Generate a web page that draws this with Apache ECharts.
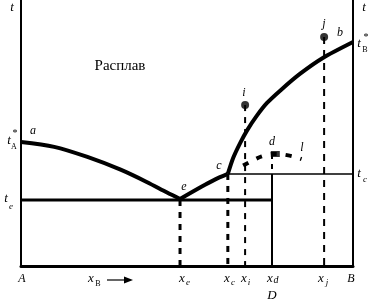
<!DOCTYPE html>
<html><head><meta charset="utf-8">
<script src="https://cdn.jsdelivr.net/npm/echarts@6/dist/echarts.min.js"></script>
<style>html,body{margin:0;padding:0;background:#fff}#c{width:371px;height:303px}</style>
</head><body><div id="c"></div>
<script>
// composition x: 0 (A) .. 100 (B); temperature y: arbitrary 0..100
const liquidusA = [[0,46.6],[10,44.8],[20,41.0],[30,36.2],[38,31.5],[44,27.6],[47.9,25.2]];
const liquidusEC = [[47.9,25.2],[54.2,29.7],[58.1,32.3],[62.3,34.6]];
const liquidusCB = [[62.3,34.6],[63.9,40.6],[66.0,46.2],[68.1,51.0],[71.1,56.6],[74.1,61.3],[78.3,66.2],[84.0,72.2],[90.9,78.2],[100,84.2]];
const curveDL = [[66.9,37.8],[70,39.8],[72.5,41.2],[75.6,42.1],[79,41.9],[82.5,41.0],[84.5,40.2]];
const tEutectic = 24.8;
const tC = 34.6;
const xE = 47.9, xC = 62.3, xI = 67.5, xD = 75.6, xJ = 91.3;
const pointI = [67.5, 60.5];
const pointJ = [91.3, 86.1];
const pointD = [76.6, 42.1];

const chart = echarts.init(document.getElementById('c'), null, {renderer:'canvas'});
const K = '#000';
function line(data, width, type, dash) {
  return {type:'line', data, symbol:'none', silent:true, animation:false,
    lineStyle:{color:K, width, type: dash || type || 'solid'}};
}
const F = "'Liberation Serif','Times New Roman',serif";
chart.setOption({
  animation:false,
  grid:{left:21, right:18, top:0, bottom:37},
  xAxis:{type:'value', min:0, max:100, axisLine:{show:true, lineStyle:{color:K,width:3}}, axisTick:{show:false}, axisLabel:{show:false}, splitLine:{show:false}},
  yAxis:[
    {type:'value', min:0, max:100, position:'left', axisLine:{show:true, onZero:false, lineStyle:{color:K,width:2}}, axisTick:{show:false}, axisLabel:{show:false}, splitLine:{show:false}},
    {type:'value', min:0, max:100, position:'right', axisLine:{show:true, onZero:false, lineStyle:{color:K,width:2}}, axisTick:{show:false}, axisLabel:{show:false}, splitLine:{show:false}}
  ],
  series:[
    Object.assign(line(liquidusA, 4), {smooth:0.3}),
    Object.assign(line(liquidusEC, 4), {smooth:0.3}),
    Object.assign(line(liquidusCB, 4), {smooth:0.25}),
    line([[0,tEutectic],[xD,tEutectic]], 3),
    line([[xC,tC],[100,tC]], 1.4),
    line([[xD,tC],[xD,0]], 2),
    line([[xE,tEutectic],[xE,0]], 3, null, [6,6]),
    line([[xC,tC],[xC,0]], 3, null, [6,6]),
    line([[xI,pointI[1]],[xI,0]], 2, null, [6,6]),
    line([[xD,pointD[1]],[xD,tC]], 2, null, [5,5]),
    line([[xJ,pointJ[1]],[xJ,0]], 2, null, [7,6]),
    Object.assign(line(curveDL, 4, null, [6,9]), {smooth:0.3}),
    {type:'scatter', data:[pointI, pointJ], symbol:'circle', symbolSize:8, itemStyle:{color:K}, silent:true, animation:false},
    {type:'scatter', data:[pointD], symbol:'rect', symbolSize:[9,6], itemStyle:{color:K}, silent:true, animation:false}
  ]
});

function T(x, y, text, size, italic, extra) {
  return Object.assign({type:'text', x, y, silent:true, style:{text, fill:K, font:(italic===false?'':'italic ')+size+'px '+F, textAlign:'center', textVerticalAlign:'middle'}}, extra||{});
}
const g = [
  T(12,8,'t',13), T(364,8,'t',13),
  T(9,141,'t',13), T(15,133,'*',10,false), T(14,147,'A',8,false),
  T(33,131,'a',12),
  T(6,199,'t',13), T(11,207,'e',9),
  T(120,66,'Расплав',15,false),
  T(244,93,'i',12), T(324,24,'j',12), T(340,33,'b',12),
  T(359,44,'t',13), T(366,37,'*',10,false), T(365,50,'B',8,false),
  T(219,166,'c',12), T(184,187,'e',12), T(272,142,'d',12), T(302,148,'l',12),
  T(359,174,'t',13), T(365,180,'c',9),
  T(22,279,'A',12),
  T(91,279,'x',13), T(98,284,'B',8,false),
  T(182,279,'x',13), T(188,283,'e',9),
  T(227,279,'x',13), T(233,283,'c',9),
  T(244,279,'x',13), T(249,283,'i',9),
  T(270,279,'x',13), T(276,280,'d',10),
  T(321,279,'x',13), T(327,283,'j',9),
  T(351,279,'B',12),
  T(272,296,'D',13),
  {type:'line', silent:true, shape:{x1:107,y1:280,x2:126,y2:280}, style:{stroke:K, lineWidth:1.2}},
  {type:'polygon', silent:true, shape:{points:[[124,276.5],[133,280],[124,283.5]]}, style:{fill:K}}
];
chart.setOption({graphic:g});
</script></body></html>
